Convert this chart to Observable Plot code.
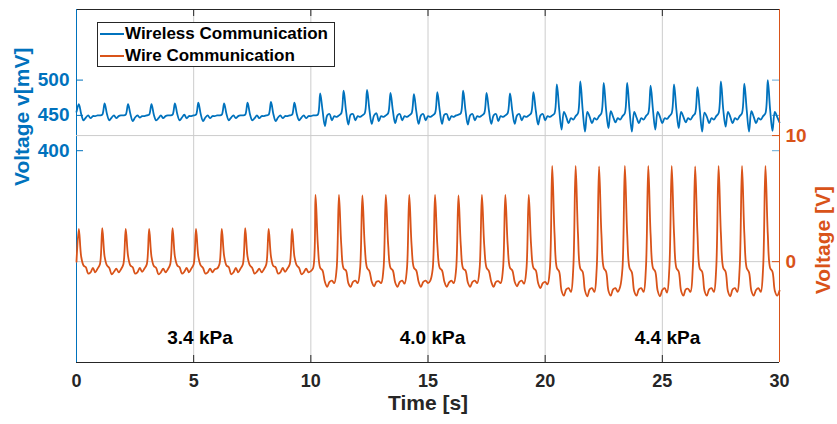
<!DOCTYPE html>
<html>
<head>
<meta charset="utf-8">
<script src="https://cdn.jsdelivr.net/npm/d3@7"></script>
<script src="https://cdn.jsdelivr.net/npm/@observablehq/plot@0.6"></script>
<style>
  body { margin: 0; background: #fff; }
  #wrap { position: relative; width: 837px; height: 424px; font-family: "Liberation Sans", Arial, Helvetica, sans-serif; }
  #wrap svg { position: absolute; left: 0; top: 0; }
  #legend { position: absolute; left: 97px; top: 22px; width: 236px; height: 43px; border: 1px solid #262626; background: #fff; }
  .row { position: absolute; left: 2px; height: 20px; display: flex; align-items: center; font-weight: bold; font-size: 17px; color: #000; white-space: nowrap; }
  .sw { display: inline-block; width: 24px; height: 2px; margin-right: 1px; }
</style>
</head>
<body>
<div id="wrap"></div>
<script>
// ---------------- data ----------------
const timeStep = 0.1; // seconds between samples, t = 0 ... 30 s

// Wireless communication signal [mV] (left axis)
const wireless = [
  455,
  466,452,443,447,450,446,449,449,450,450,451,
  467,452,443,447,450,446,449,450,450,451,
  466,452,442,447,450,447,449,449,450,451,
  466,451,443,446,450,446,449,450,450,451,
  467,452,443,447,451,446,449,449,450,451,
  468,452,442,447,450,446,449,449,450,450,451,
  467,452,443,447,450,446,449,450,450,451,
  468,452,443,446,450,446,449,449,450,451,
  469,452,442,447,450,446,449,449,450,451,
  468,452,443,447,450,446,449,449,450,450,451,
  481,457,435,450,452,443,449,448,450,453,
  485,457,437,451,452,443,449,448,450,453,
  486,458,438,450,453,442,449,448,450,453,
  482,457,439,450,452,443,449,448,450,453,
  480,456,438,450,452,443,449,448,450,453,
  483,457,438,451,452,443,449,448,450,451,453,
  485,457,437,450,452,443,449,448,450,453,
  482,457,438,450,452,442,449,448,450,453,
  481,456,438,450,452,443,449,448,450,453,
  483,457,437,450,452,443,449,448,450,453,
  494,458,430,455,448,439,446,444,449,453,
  498,458,427,455,448,439,446,444,449,453,
  496,458,432,456,448,440,446,444,449,453,
  496,457,427,455,447,439,446,444,449,453,
  492,458,430,455,448,439,446,445,449,453,
  494,458,432,455,448,440,446,444,449,453,
  490,457,427,454,448,439,446,444,449,453,
  498,458,434,455,448,439,446,444,449,453,
  495,458,427,456,448,439,446,444,449,453,
  500,458,428,455,448,440
];

// Wire communication signal [V] (right axis)
const wire = [
  0.0,
  2.6,0.4,-0.3,-0.45,-0.95,-0.85,-0.5,-0.85,-0.55,-0.2,
  2.65,0.4,-0.3,-0.5,-1.0,-0.8,-0.55,-0.85,-0.6,-0.2,
  2.6,0.45,-0.3,-0.45,-0.95,-0.85,-0.5,-0.8,-0.55,-0.2,
  2.6,0.4,-0.35,-0.5,-1.0,-0.85,-0.55,-0.85,-0.6,-0.2,
  2.65,0.4,-0.3,-0.45,-0.95,-0.8,-0.5,-0.85,-0.55,-0.2,
  2.6,0.4,-0.3,-0.5,-0.95,-0.85,-0.55,-0.85,-0.6,-0.55,-0.2,
  2.6,0.45,-0.3,-0.45,-1.0,-0.85,-0.5,-0.85,-0.55,-0.2,
  2.65,0.4,-0.3,-0.5,-0.95,-0.8,-0.55,-0.85,-0.6,-0.2,
  2.6,0.4,-0.35,-0.45,-0.95,-0.85,-0.5,-0.8,-0.55,-0.2,
  2.6,0.4,-0.3,-0.5,-1.0,-0.85,-0.55,-0.85,-0.75,-0.5,
  5.3,1.3,-0.5,-0.7,-1.6,-2.0,-1.6,-1.5,-1.7,-0.6,
  5.3,1.3,-0.55,-0.7,-1.7,-2.0,-1.6,-1.5,-1.7,-0.6,
  5.25,1.3,-0.5,-0.75,-1.6,-1.95,-1.6,-1.55,-1.7,-0.6,
  5.3,1.35,-0.5,-0.7,-1.65,-2.0,-1.6,-1.5,-1.75,-0.6,
  5.3,1.3,-0.5,-0.7,-1.6,-2.0,-1.6,-1.5,-1.7,-1.5,-0.6,
  5.3,1.3,-0.5,-0.7,-1.6,-2.0,-1.65,-1.5,-1.7,-0.6,
  5.25,1.3,-0.55,-0.7,-1.65,-2.0,-1.6,-1.5,-1.7,-0.6,
  5.3,1.3,-0.5,-0.75,-1.6,-2.0,-1.6,-1.55,-1.7,-0.6,
  5.3,1.35,-0.5,-0.7,-1.6,-1.95,-1.6,-1.5,-1.75,-0.6,
  5.3,1.3,-0.5,-0.7,-1.7,-2.1,-1.7,-1.6,-1.8,-0.6,
  7.6,2.2,-0.5,-0.8,-2.3,-2.7,-2.2,-2.1,-2.4,-0.5,
  7.6,2.2,-0.55,-0.8,-2.3,-2.75,-2.2,-2.1,-2.4,-0.5,
  7.55,2.2,-0.5,-0.8,-2.3,-2.7,-2.2,-2.1,-2.4,-2.0,-0.5,
  7.6,2.2,-0.5,-0.85,-2.35,-2.7,-2.2,-2.1,-2.4,-0.5,
  7.6,2.15,-0.5,-0.8,-2.3,-2.75,-2.25,-2.1,-2.45,-0.5,
  7.6,2.2,-0.5,-0.8,-2.3,-2.7,-2.2,-2.15,-2.4,-0.5,
  7.55,2.2,-0.55,-0.8,-2.3,-2.7,-2.2,-2.1,-2.4,-0.5,
  7.6,2.2,-0.5,-0.8,-2.35,-2.75,-2.2,-2.1,-2.4,-0.5,
  7.6,2.2,-0.5,-0.85,-2.3,-2.7,-2.25,-2.1,-2.4,-0.5,
  7.6,2.2,-0.5,-0.8,-2.3,-2.7,-2.3
];

const xTicks = [0, 5, 10, 15, 20, 25, 30];
const leftTicks = [400, 450, 500];
const rightTicks = [0, 10];
const xDomain = [0, 30];
const leftDomain = [100, 600];
const rightDomain = [-8, 20];
const pressureLabels = ["3.4 kPa", "4.0 kPa", "4.4 kPa"];
const pressureX = [5.27, 15.19, 25.22];
const seriesNames = ["Wireless Communication", "Wire Communication"];
const axisTitles = {x: "Time [s]", left: "Voltage v[mV]", right: "Voltage [V]"};

// ---------------- styling ----------------
const BLUE = "#0072BD", ORANGE = "#D95319", DARK = "#262626", GRID = "#cccccc";
const W = 837, H = 424;
const M = {top: 9, right: 58, bottom: 62, left: 76};
const innerW = W - M.left - M.right;
const innerH = H - M.top - M.bottom;
const FONT = '"Liberation Sans", Arial, Helvetica, sans-serif';

const wirelessData = wireless.map((v, i) => ({t: i * timeStep, v}));
const wireData = wire.map((v, i) => ({t: i * timeStep, v}));

const common = {
  width: W, height: H,
  marginTop: M.top, marginRight: M.right, marginBottom: M.bottom, marginLeft: M.left,
  style: {background: "transparent", fontFamily: FONT, overflow: "visible"}
};

// Left-axis plot (wireless, x axis, frame)
const plotA = Plot.plot({
  ...common,
  x: {domain: xDomain},
  y: {domain: leftDomain},
  marks: [
    Plot.ruleX(xTicks.slice(1, -1), {x: d => d, stroke: GRID, strokeWidth: 1}),
    Plot.line(wirelessData, {x: "t", y: "v", stroke: BLUE, strokeWidth: 1.8, curve: "catmull-rom"}),
    Plot.text(pressureLabels, {x: (d, i) => pressureX[i], frameAnchor: "bottom", dy: -18.5, text: d => d,
      fontSize: 19, fontWeight: "bold", fill: "#000"}),
    Plot.tickX(xTicks, {x: d => d, insetTop: innerH - 7, stroke: DARK}),
    Plot.tickX(xTicks, {x: d => d, insetBottom: innerH - 7, stroke: DARK}),
    Plot.tickY(leftTicks, {y: d => d, insetRight: innerW - 7, stroke: BLUE}),
    Plot.tickY(leftTicks, {y: d => d, insetLeft: innerW - 7, stroke: BLUE, strokeOpacity: 0.6}),
    Plot.ruleY([leftDomain[0]], {y: d => d, stroke: DARK}),
    Plot.ruleY([leftDomain[1]], {y: d => d, stroke: DARK}),
    Plot.ruleX([xDomain[0]], {x: d => d, stroke: BLUE}),
    Plot.axisX(xTicks, {tickSize: 0, tickPadding: 12, fontSize: 18, fontWeight: "bold", fill: DARK, label: null}),
    Plot.axisY(leftTicks, {anchor: "left", tickSize: 0, tickPadding: 7, fontSize: 19, fontWeight: "bold", fill: BLUE, label: null}),
    Plot.text([axisTitles.x], {frameAnchor: "bottom", dy: 47, text: d => d, fontSize: 21, fontWeight: "bold", fill: DARK}),
    Plot.text([axisTitles.left], {frameAnchor: "left", dx: -54, rotate: -90, text: d => d, fontSize: 21, fontWeight: "bold", fill: BLUE})
  ]
});

// Right-axis plot (wire)
const plotB = Plot.plot({
  ...common,
  x: {domain: xDomain, axis: null},
  y: {domain: rightDomain},
  marks: [
    Plot.ruleY(rightTicks, {y: d => d, stroke: GRID, strokeWidth: 1}),
    Plot.line(wireData, {x: "t", y: "v", stroke: ORANGE, strokeWidth: 1.8, curve: "catmull-rom"}),
    Plot.tickY(rightTicks, {y: d => d, insetLeft: innerW - 7, stroke: ORANGE}),
    Plot.ruleX([xDomain[1]], {x: d => d, stroke: ORANGE}),
    Plot.axisY(rightTicks, {anchor: "right", tickSize: 0, tickPadding: 6, fontSize: 19, fontWeight: "bold", fill: ORANGE, label: null}),
    Plot.text([axisTitles.right], {frameAnchor: "right", dx: 44, rotate: -90, text: d => d, fontSize: 21, fontWeight: "bold", fill: ORANGE})
  ]
});

const wrap = document.getElementById("wrap");
wrap.appendChild(plotA);
wrap.appendChild(plotB);

// Legend
const legend = document.createElement("div");
legend.id = "legend";
[BLUE, ORANGE].forEach((c, i) => {
  const row = document.createElement("div");
  row.className = "row";
  row.style.top = (i === 0 ? 1 : 22.5) + "px";
  const sw = document.createElement("span");
  sw.className = "sw";
  sw.style.background = c;
  row.appendChild(sw);
  row.appendChild(document.createTextNode(seriesNames[i]));
  legend.appendChild(row);
});
wrap.appendChild(legend);
</script>
</body>
</html>
